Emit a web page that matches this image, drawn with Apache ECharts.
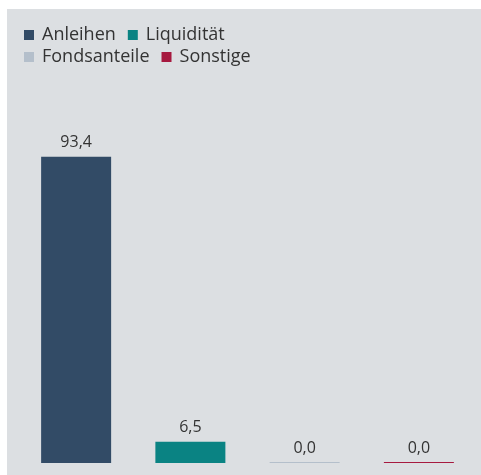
<!DOCTYPE html>
<html>
<head>
<meta charset="utf-8">
<script src="https://cdn.jsdelivr.net/npm/echarts@6/dist/echarts.min.js"></script>
<style>
  html, body { margin: 0; padding: 0; background: #ffffff; }
  .panel { position: absolute; left: 7px; top: 9px; width: 474px; height: 466px; background: #dcdfe2; }
  #chart { position: absolute; left: 0; top: 0; width: 481px; height: 475px; }
</style>
</head>
<body>
<div class="panel"></div>
<div id="chart"></div>
<script>
  const categories = ['Anleihen', 'Liquidität', 'Fondsanteile', 'Sonstige']
  const values = [93.4, 6.5, 0.0, 0.0]
  const colors = ['#324b66', '#0a8383', '#b4bfcb', '#a6193f']

  const chart = echarts.init(document.getElementById('chart'))

  // one series per category so the legend can show each one
  const seriesArr = categories.map((name, i) => {
    return {
      name: name,
      type: 'bar',
      stack: 'all',
      barWidth: 70,
      barMinHeight: 1,
      itemStyle: { color: colors[i] },
      label: {
        show: true,
        position: 'top',
        distance: 6,
        color: '#333',
        fontFamily: 'Open Sans',
        fontSize: 16,
        formatter: p => p.value.toFixed(1).replace('.', ',')
      },
      data: values.map((v, j) => (j === i ? v : '-'))
    }
  })

  const legendText = {
    color: '#333',
    fontFamily: 'Open Sans',
    fontSize: 18,
    padding: [0, 0, 0, 3]
  }

  chart.setOption({
    animation: false,
    legend: [
      {
        data: categories.slice(0, 2),
        left: 24, top: 26, padding: 0,
        itemWidth: 10, itemHeight: 10, itemGap: 12,
        icon: 'rect',
        textStyle: legendText
      },
      {
        data: categories.slice(2),
        left: 24, top: 48, padding: 0,
        itemWidth: 10, itemHeight: 10, itemGap: 12,
        icon: 'rect',
        textStyle: legendText
      }
    ],
    grid: { left: 19, right: 5, top: 135, bottom: 12 },
    xAxis: { type: 'category', data: categories, show: false },
    yAxis: { type: 'value', min: 0, max: 100, show: false },
    series: seriesArr
  })
</script>
</body>
</html>
